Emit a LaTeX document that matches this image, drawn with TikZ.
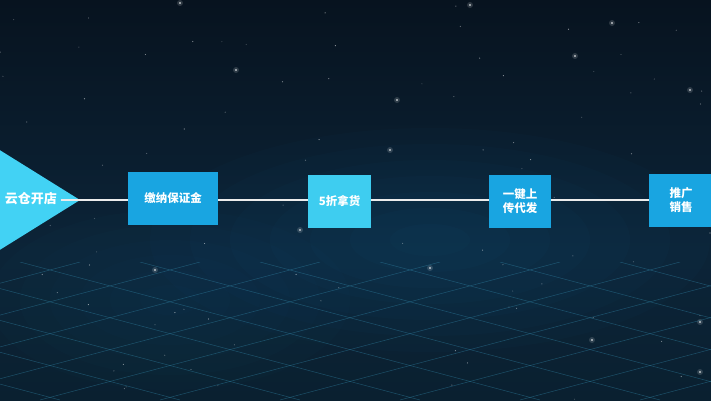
\documentclass[tikz,border=0pt]{standalone}
\usepackage{fontspec}
\newfontfamily\cjk{Noto Sans CJK SC}
\definecolor{skytop}{HTML}{07131F}
\definecolor{skymid}{HTML}{0C2438}
\definecolor{skylow}{HTML}{0A2030}
\definecolor{tricyan}{HTML}{42D2F4}
\definecolor{boxblue}{HTML}{19A5E1}
\definecolor{boxcyan}{HTML}{3ECDF0}
\definecolor{gridteal}{HTML}{2E7FA0}
\tikzset{
  stepbox/.style={fill=boxblue, inner sep=0pt, align=center, text=white,
    font=\cjk\bfseries\fontsize{11.5}{14}\selectfont},
  link/.style={draw=white!85!gray, line width=1.6pt}
}
\begin{document}
\begin{tikzpicture}[x=1pt, y=-1pt]
\useasboundingbox (0,0) rectangle (711,400);

% background
\shade[top color=skytop, bottom color=skymid] (0,0) rectangle (711,250);
\shade[top color=skymid, bottom color=skylow] (0,250) rectangle (711,400);
\foreach \r in {40,80,...,280}
  \fill[boxblue, opacity=0.018] (430,240) ellipse [x radius=\r, y radius=0.4*\r];
\foreach \r in {30,60,...,180}
  \fill[boxblue, opacity=0.015] (170,300) ellipse [x radius=\r, y radius=0.5*\r];

% floor grid
\begin{scope}
\clip (0,262) rectangle (711,400);
\foreach \gx in {-700,-580,...,760}
  \draw[gridteal, opacity=0.5, line width=0.5pt] (\gx,262) -- (\gx+520,400);
\foreach \gx in {-40,80,...,1400}
  \draw[gridteal, opacity=0.5, line width=0.5pt] (\gx,262) -- (\gx-520,400);
\end{scope}

% stars
\pgfmathsetseed{7}
\foreach \i in {1,...,90} {
  \pgfmathsetmacro\sx{rnd*711}
  \pgfmathsetmacro\sy{rnd*400}
  \pgfmathsetmacro\so{0.2+0.4*rnd}
  \fill[white, opacity=\so] (\sx,\sy) circle (0.6);
}
\foreach \sx/\sy in {397/100,390/150,236/70,430/268,575/56,612/23,700/372,700/322,
    592/340,300/230,155/270,690/90,180/3,470/5} {
  \fill[white, opacity=0.15] (\sx,\sy) circle (3);
  \fill[white, opacity=0.7] (\sx,\sy) circle (1.2);
}

% first step: the triangle
\fill[tricyan] (-10,144) -- (80,200) -- (-10,256) -- cycle;
\coordinate (tip) at (80,200);
\node[text=white, font=\cjk\bfseries\fontsize{13}{15}\selectfont] (store) at (31,199) {云仓开店};

\node[stepbox, minimum width=90pt, minimum height=53pt] (deposit) at (173,198.5) {缴纳保证金};
\node[stepbox, fill=boxcyan, minimum width=63pt, minimum height=53pt] (discount) at (339.5,201.5) {5折拿货};
\node[stepbox, minimum width=62pt, minimum height=53pt] (upload) at (520,201.5) {一键上\\传代发};
\node[stepbox, minimum width=64pt, minimum height=53pt] (sell) at (681,200.5) {推广\\销售};

\draw[link] (store.east |- tip) -- (deposit.west |- tip);
\draw[link] (deposit.east |- tip) -- (discount.west |- tip);
\draw[link] (discount.east |- tip) -- (upload.west |- tip);
\draw[link] (upload.east |- tip) -- (sell.west |- tip);
\end{tikzpicture}
\end{document}
